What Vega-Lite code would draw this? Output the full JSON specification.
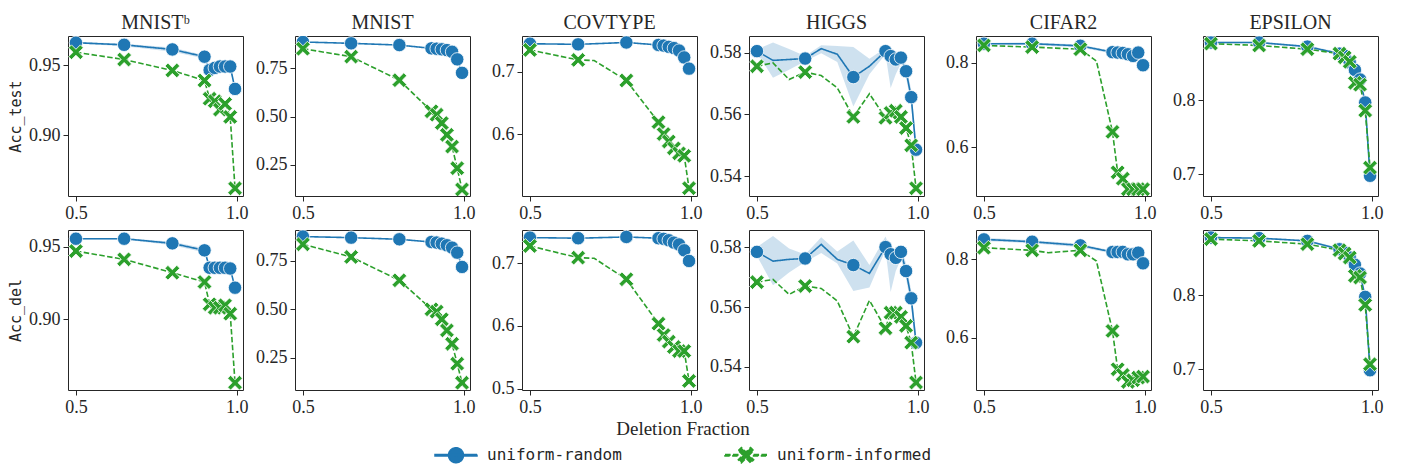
{
"$schema":"https://vega.github.io/schema/vega-lite/v6.json",
"padding":{"left":8,"top":12,"right":10,"bottom":4},
"spacing":6,
"datasets":{"acc":[
{"ds":"MNISTb","split":"test","method":"uniform-random","frac":0.5,"acc":0.966,"lo":0.9655,"hi":0.9667},
{"ds":"MNISTb","split":"test","method":"uniform-random","frac":0.65,"acc":0.9645,"lo":0.9635,"hi":0.9652},
{"ds":"MNISTb","split":"test","method":"uniform-random","frac":0.8,"acc":0.9612,"lo":0.9595,"hi":0.9625},
{"ds":"MNISTb","split":"test","method":"uniform-random","frac":0.9,"acc":0.956,"lo":0.9548,"hi":0.957},
{"ds":"MNISTb","split":"test","method":"uniform-random","frac":0.916,"acc":0.9465,"lo":0.9455,"hi":0.9475},
{"ds":"MNISTb","split":"test","method":"uniform-random","frac":0.932,"acc":0.948,"lo":0.9472,"hi":0.9488},
{"ds":"MNISTb","split":"test","method":"uniform-random","frac":0.948,"acc":0.949,"lo":0.9483,"hi":0.9497},
{"ds":"MNISTb","split":"test","method":"uniform-random","frac":0.964,"acc":0.949,"lo":0.9483,"hi":0.9497},
{"ds":"MNISTb","split":"test","method":"uniform-random","frac":0.98,"acc":0.949,"lo":0.9483,"hi":0.9497},
{"ds":"MNISTb","split":"test","method":"uniform-random","frac":0.995,"acc":0.933,"lo":0.932,"hi":0.934},
{"ds":"MNISTb","split":"test","method":"uniform-informed","frac":0.5,"acc":0.9592},
{"ds":"MNISTb","split":"test","method":"uniform-informed","frac":0.65,"acc":0.954},
{"ds":"MNISTb","split":"test","method":"uniform-informed","frac":0.8,"acc":0.9462},
{"ds":"MNISTb","split":"test","method":"uniform-informed","frac":0.9,"acc":0.939},
{"ds":"MNISTb","split":"test","method":"uniform-informed","frac":0.916,"acc":0.926},
{"ds":"MNISTb","split":"test","method":"uniform-informed","frac":0.932,"acc":0.9242},
{"ds":"MNISTb","split":"test","method":"uniform-informed","frac":0.948,"acc":0.9182},
{"ds":"MNISTb","split":"test","method":"uniform-informed","frac":0.964,"acc":0.9223},
{"ds":"MNISTb","split":"test","method":"uniform-informed","frac":0.98,"acc":0.913},
{"ds":"MNISTb","split":"test","method":"uniform-informed","frac":0.995,"acc":0.862},
{"ds":"MNIST","split":"test","method":"uniform-random","frac":0.5,"acc":0.887},
{"ds":"MNIST","split":"test","method":"uniform-random","frac":0.65,"acc":0.88},
{"ds":"MNIST","split":"test","method":"uniform-random","frac":0.8,"acc":0.871},
{"ds":"MNIST","split":"test","method":"uniform-random","frac":0.9,"acc":0.854},
{"ds":"MNIST","split":"test","method":"uniform-random","frac":0.916,"acc":0.852},
{"ds":"MNIST","split":"test","method":"uniform-random","frac":0.932,"acc":0.849},
{"ds":"MNIST","split":"test","method":"uniform-random","frac":0.948,"acc":0.845},
{"ds":"MNIST","split":"test","method":"uniform-random","frac":0.964,"acc":0.836},
{"ds":"MNIST","split":"test","method":"uniform-random","frac":0.98,"acc":0.797},
{"ds":"MNIST","split":"test","method":"uniform-random","frac":0.995,"acc":0.727},
{"ds":"MNIST","split":"test","method":"uniform-informed","frac":0.5,"acc":0.852},
{"ds":"MNIST","split":"test","method":"uniform-informed","frac":0.65,"acc":0.811},
{"ds":"MNIST","split":"test","method":"uniform-informed","frac":0.8,"acc":0.689},
{"ds":"MNIST","split":"test","method":"uniform-informed","frac":0.9,"acc":0.528},
{"ds":"MNIST","split":"test","method":"uniform-informed","frac":0.916,"acc":0.51},
{"ds":"MNIST","split":"test","method":"uniform-informed","frac":0.932,"acc":0.467},
{"ds":"MNIST","split":"test","method":"uniform-informed","frac":0.948,"acc":0.406},
{"ds":"MNIST","split":"test","method":"uniform-informed","frac":0.964,"acc":0.345},
{"ds":"MNIST","split":"test","method":"uniform-informed","frac":0.98,"acc":0.233},
{"ds":"MNIST","split":"test","method":"uniform-informed","frac":0.995,"acc":0.123},
{"ds":"COVTYPE","split":"test","method":"uniform-random","frac":0.5,"acc":0.745},
{"ds":"COVTYPE","split":"test","method":"uniform-random","frac":0.65,"acc":0.744},
{"ds":"COVTYPE","split":"test","method":"uniform-random","frac":0.8,"acc":0.747},
{"ds":"COVTYPE","split":"test","method":"uniform-random","frac":0.9,"acc":0.743},
{"ds":"COVTYPE","split":"test","method":"uniform-random","frac":0.916,"acc":0.742},
{"ds":"COVTYPE","split":"test","method":"uniform-random","frac":0.932,"acc":0.74},
{"ds":"COVTYPE","split":"test","method":"uniform-random","frac":0.948,"acc":0.738},
{"ds":"COVTYPE","split":"test","method":"uniform-random","frac":0.964,"acc":0.734},
{"ds":"COVTYPE","split":"test","method":"uniform-random","frac":0.98,"acc":0.723},
{"ds":"COVTYPE","split":"test","method":"uniform-random","frac":0.995,"acc":0.705},
{"ds":"COVTYPE","split":"test","method":"uniform-informed","frac":0.5,"acc":0.735},
{"ds":"COVTYPE","split":"test","method":"uniform-informed","frac":0.65,"acc":0.719},
{"ds":"COVTYPE","split":"test","method":"uniform-informed","frac":0.7,"acc":0.718},
{"ds":"COVTYPE","split":"test","method":"uniform-informed","frac":0.8,"acc":0.686},
{"ds":"COVTYPE","split":"test","method":"uniform-informed","frac":0.9,"acc":0.619},
{"ds":"COVTYPE","split":"test","method":"uniform-informed","frac":0.916,"acc":0.6},
{"ds":"COVTYPE","split":"test","method":"uniform-informed","frac":0.932,"acc":0.588},
{"ds":"COVTYPE","split":"test","method":"uniform-informed","frac":0.948,"acc":0.577},
{"ds":"COVTYPE","split":"test","method":"uniform-informed","frac":0.964,"acc":0.569},
{"ds":"COVTYPE","split":"test","method":"uniform-informed","frac":0.98,"acc":0.565},
{"ds":"COVTYPE","split":"test","method":"uniform-informed","frac":0.995,"acc":0.513},
{"ds":"HIGGS","split":"test","method":"uniform-random","frac":0.5,"acc":0.5805,"lo":0.58,"hi":0.581},
{"ds":"HIGGS","split":"test","method":"uniform-random","frac":0.55,"acc":0.5775,"lo":0.5719,"hi":0.5833},
{"ds":"HIGGS","split":"test","method":"uniform-random","frac":0.6,"acc":0.5778,"lo":0.5745,"hi":0.5812},
{"ds":"HIGGS","split":"test","method":"uniform-random","frac":0.65,"acc":0.5781,"lo":0.5772,"hi":0.5789},
{"ds":"HIGGS","split":"test","method":"uniform-random","frac":0.7,"acc":0.5813,"lo":0.5798,"hi":0.5824},
{"ds":"HIGGS","split":"test","method":"uniform-random","frac":0.75,"acc":0.5795,"lo":0.577,"hi":0.5822},
{"ds":"HIGGS","split":"test","method":"uniform-random","frac":0.8,"acc":0.5721,"lo":0.5626,"hi":0.5818},
{"ds":"HIGGS","split":"test","method":"uniform-random","frac":0.85,"acc":0.5756,"lo":0.573,"hi":0.578},
{"ds":"HIGGS","split":"test","method":"uniform-random","frac":0.9,"acc":0.5805,"lo":0.5795,"hi":0.5815},
{"ds":"HIGGS","split":"test","method":"uniform-random","frac":0.916,"acc":0.5789,"lo":0.5686,"hi":0.58},
{"ds":"HIGGS","split":"test","method":"uniform-random","frac":0.932,"acc":0.5778,"lo":0.573,"hi":0.579},
{"ds":"HIGGS","split":"test","method":"uniform-random","frac":0.948,"acc":0.5784,"lo":0.5765,"hi":0.58},
{"ds":"HIGGS","split":"test","method":"uniform-random","frac":0.964,"acc":0.574,"lo":0.572,"hi":0.576},
{"ds":"HIGGS","split":"test","method":"uniform-random","frac":0.98,"acc":0.5656,"lo":0.563,"hi":0.568},
{"ds":"HIGGS","split":"test","method":"uniform-random","frac":0.995,"acc":0.5486,"lo":0.545,"hi":0.552},
{"ds":"HIGGS","split":"test","method":"uniform-informed","frac":0.5,"acc":0.5756},
{"ds":"HIGGS","split":"test","method":"uniform-informed","frac":0.55,"acc":0.5767},
{"ds":"HIGGS","split":"test","method":"uniform-informed","frac":0.6,"acc":0.5713},
{"ds":"HIGGS","split":"test","method":"uniform-informed","frac":0.65,"acc":0.5737},
{"ds":"HIGGS","split":"test","method":"uniform-informed","frac":0.7,"acc":0.5726},
{"ds":"HIGGS","split":"test","method":"uniform-informed","frac":0.75,"acc":0.5686},
{"ds":"HIGGS","split":"test","method":"uniform-informed","frac":0.8,"acc":0.5592},
{"ds":"HIGGS","split":"test","method":"uniform-informed","frac":0.85,"acc":0.5667},
{"ds":"HIGGS","split":"test","method":"uniform-informed","frac":0.9,"acc":0.5589},
{"ds":"HIGGS","split":"test","method":"uniform-informed","frac":0.916,"acc":0.5605},
{"ds":"HIGGS","split":"test","method":"uniform-informed","frac":0.932,"acc":0.5612},
{"ds":"HIGGS","split":"test","method":"uniform-informed","frac":0.948,"acc":0.5592},
{"ds":"HIGGS","split":"test","method":"uniform-informed","frac":0.964,"acc":0.5556},
{"ds":"HIGGS","split":"test","method":"uniform-informed","frac":0.98,"acc":0.55},
{"ds":"HIGGS","split":"test","method":"uniform-informed","frac":0.995,"acc":0.5361},
{"ds":"CIFAR2","split":"test","method":"uniform-random","frac":0.5,"acc":0.845,"lo":0.843,"hi":0.847},
{"ds":"CIFAR2","split":"test","method":"uniform-random","frac":0.65,"acc":0.845,"lo":0.842,"hi":0.848},
{"ds":"CIFAR2","split":"test","method":"uniform-random","frac":0.8,"acc":0.84,"lo":0.836,"hi":0.843},
{"ds":"CIFAR2","split":"test","method":"uniform-random","frac":0.9,"acc":0.825,"lo":0.822,"hi":0.828},
{"ds":"CIFAR2","split":"test","method":"uniform-random","frac":0.916,"acc":0.824,"lo":0.821,"hi":0.827},
{"ds":"CIFAR2","split":"test","method":"uniform-random","frac":0.932,"acc":0.823,"lo":0.82,"hi":0.826},
{"ds":"CIFAR2","split":"test","method":"uniform-random","frac":0.948,"acc":0.82,"lo":0.817,"hi":0.823},
{"ds":"CIFAR2","split":"test","method":"uniform-random","frac":0.964,"acc":0.816,"lo":0.813,"hi":0.819},
{"ds":"CIFAR2","split":"test","method":"uniform-random","frac":0.98,"acc":0.824,"lo":0.821,"hi":0.827},
{"ds":"CIFAR2","split":"test","method":"uniform-random","frac":0.995,"acc":0.794,"lo":0.791,"hi":0.797},
{"ds":"CIFAR2","split":"test","method":"uniform-informed","frac":0.5,"acc":0.841},
{"ds":"CIFAR2","split":"test","method":"uniform-informed","frac":0.65,"acc":0.837},
{"ds":"CIFAR2","split":"test","method":"uniform-informed","frac":0.8,"acc":0.832},
{"ds":"CIFAR2","split":"test","method":"uniform-informed","frac":0.85,"acc":0.804},
{"ds":"CIFAR2","split":"test","method":"uniform-informed","frac":0.9,"acc":0.636},
{"ds":"CIFAR2","split":"test","method":"uniform-informed","frac":0.916,"acc":0.54},
{"ds":"CIFAR2","split":"test","method":"uniform-informed","frac":0.932,"acc":0.525},
{"ds":"CIFAR2","split":"test","method":"uniform-informed","frac":0.948,"acc":0.5},
{"ds":"CIFAR2","split":"test","method":"uniform-informed","frac":0.964,"acc":0.5},
{"ds":"CIFAR2","split":"test","method":"uniform-informed","frac":0.98,"acc":0.5},
{"ds":"CIFAR2","split":"test","method":"uniform-informed","frac":0.995,"acc":0.5},
{"ds":"EPSILON","split":"test","method":"uniform-random","frac":0.5,"acc":0.878,"lo":0.877,"hi":0.879},
{"ds":"EPSILON","split":"test","method":"uniform-random","frac":0.65,"acc":0.878,"lo":0.877,"hi":0.879},
{"ds":"EPSILON","split":"test","method":"uniform-random","frac":0.8,"acc":0.8725,"lo":0.871,"hi":0.874},
{"ds":"EPSILON","split":"test","method":"uniform-random","frac":0.9,"acc":0.863,"lo":0.861,"hi":0.865},
{"ds":"EPSILON","split":"test","method":"uniform-random","frac":0.916,"acc":0.86,"lo":0.858,"hi":0.862},
{"ds":"EPSILON","split":"test","method":"uniform-random","frac":0.932,"acc":0.851,"lo":0.849,"hi":0.853},
{"ds":"EPSILON","split":"test","method":"uniform-random","frac":0.948,"acc":0.841,"lo":0.839,"hi":0.843},
{"ds":"EPSILON","split":"test","method":"uniform-random","frac":0.964,"acc":0.828,"lo":0.826,"hi":0.83},
{"ds":"EPSILON","split":"test","method":"uniform-random","frac":0.98,"acc":0.797,"lo":0.794,"hi":0.8},
{"ds":"EPSILON","split":"test","method":"uniform-random","frac":0.995,"acc":0.698,"lo":0.682,"hi":0.705},
{"ds":"EPSILON","split":"test","method":"uniform-informed","frac":0.5,"acc":0.8765},
{"ds":"EPSILON","split":"test","method":"uniform-informed","frac":0.65,"acc":0.874},
{"ds":"EPSILON","split":"test","method":"uniform-informed","frac":0.8,"acc":0.869},
{"ds":"EPSILON","split":"test","method":"uniform-informed","frac":0.9,"acc":0.863},
{"ds":"EPSILON","split":"test","method":"uniform-informed","frac":0.916,"acc":0.858},
{"ds":"EPSILON","split":"test","method":"uniform-informed","frac":0.932,"acc":0.852},
{"ds":"EPSILON","split":"test","method":"uniform-informed","frac":0.948,"acc":0.8236},
{"ds":"EPSILON","split":"test","method":"uniform-informed","frac":0.964,"acc":0.821},
{"ds":"EPSILON","split":"test","method":"uniform-informed","frac":0.98,"acc":0.786},
{"ds":"EPSILON","split":"test","method":"uniform-informed","frac":0.995,"acc":0.709},
{"ds":"MNISTb","split":"del","method":"uniform-random","frac":0.5,"acc":0.9555,"lo":0.955,"hi":0.956},
{"ds":"MNISTb","split":"del","method":"uniform-random","frac":0.65,"acc":0.9555,"lo":0.955,"hi":0.956},
{"ds":"MNISTb","split":"del","method":"uniform-random","frac":0.8,"acc":0.9523,"lo":0.951,"hi":0.9535},
{"ds":"MNISTb","split":"del","method":"uniform-random","frac":0.9,"acc":0.9475,"lo":0.946,"hi":0.949},
{"ds":"MNISTb","split":"del","method":"uniform-random","frac":0.916,"acc":0.9355,"lo":0.935,"hi":0.936},
{"ds":"MNISTb","split":"del","method":"uniform-random","frac":0.932,"acc":0.9355,"lo":0.935,"hi":0.936},
{"ds":"MNISTb","split":"del","method":"uniform-random","frac":0.948,"acc":0.9355,"lo":0.935,"hi":0.936},
{"ds":"MNISTb","split":"del","method":"uniform-random","frac":0.964,"acc":0.9355,"lo":0.935,"hi":0.936},
{"ds":"MNISTb","split":"del","method":"uniform-random","frac":0.98,"acc":0.935,"lo":0.9345,"hi":0.9355},
{"ds":"MNISTb","split":"del","method":"uniform-random","frac":0.995,"acc":0.9218,"lo":0.921,"hi":0.9225},
{"ds":"MNISTb","split":"del","method":"uniform-informed","frac":0.5,"acc":0.947},
{"ds":"MNISTb","split":"del","method":"uniform-informed","frac":0.65,"acc":0.9413},
{"ds":"MNISTb","split":"del","method":"uniform-informed","frac":0.8,"acc":0.9321},
{"ds":"MNISTb","split":"del","method":"uniform-informed","frac":0.9,"acc":0.9257},
{"ds":"MNISTb","split":"del","method":"uniform-informed","frac":0.916,"acc":0.9104},
{"ds":"MNISTb","split":"del","method":"uniform-informed","frac":0.932,"acc":0.908},
{"ds":"MNISTb","split":"del","method":"uniform-informed","frac":0.948,"acc":0.908},
{"ds":"MNISTb","split":"del","method":"uniform-informed","frac":0.964,"acc":0.9097},
{"ds":"MNISTb","split":"del","method":"uniform-informed","frac":0.98,"acc":0.9039},
{"ds":"MNISTb","split":"del","method":"uniform-informed","frac":0.995,"acc":0.8564},
{"ds":"MNIST","split":"del","method":"uniform-random","frac":0.5,"acc":0.876},
{"ds":"MNIST","split":"del","method":"uniform-random","frac":0.65,"acc":0.8705},
{"ds":"MNIST","split":"del","method":"uniform-random","frac":0.8,"acc":0.862},
{"ds":"MNIST","split":"del","method":"uniform-random","frac":0.9,"acc":0.848},
{"ds":"MNIST","split":"del","method":"uniform-random","frac":0.916,"acc":0.845},
{"ds":"MNIST","split":"del","method":"uniform-random","frac":0.932,"acc":0.8395},
{"ds":"MNIST","split":"del","method":"uniform-random","frac":0.948,"acc":0.831},
{"ds":"MNIST","split":"del","method":"uniform-random","frac":0.964,"acc":0.819},
{"ds":"MNIST","split":"del","method":"uniform-random","frac":0.98,"acc":0.793},
{"ds":"MNIST","split":"del","method":"uniform-random","frac":0.995,"acc":0.719},
{"ds":"MNIST","split":"del","method":"uniform-informed","frac":0.5,"acc":0.836},
{"ds":"MNIST","split":"del","method":"uniform-informed","frac":0.65,"acc":0.7707},
{"ds":"MNIST","split":"del","method":"uniform-informed","frac":0.8,"acc":0.65},
{"ds":"MNIST","split":"del","method":"uniform-informed","frac":0.9,"acc":0.5},
{"ds":"MNIST","split":"del","method":"uniform-informed","frac":0.916,"acc":0.488},
{"ds":"MNIST","split":"del","method":"uniform-informed","frac":0.932,"acc":0.4485},
{"ds":"MNIST","split":"del","method":"uniform-informed","frac":0.948,"acc":0.391},
{"ds":"MNIST","split":"del","method":"uniform-informed","frac":0.964,"acc":0.322},
{"ds":"MNIST","split":"del","method":"uniform-informed","frac":0.98,"acc":0.219},
{"ds":"MNIST","split":"del","method":"uniform-informed","frac":0.995,"acc":0.1206},
{"ds":"COVTYPE","split":"del","method":"uniform-random","frac":0.5,"acc":0.741},
{"ds":"COVTYPE","split":"del","method":"uniform-random","frac":0.65,"acc":0.74},
{"ds":"COVTYPE","split":"del","method":"uniform-random","frac":0.8,"acc":0.742},
{"ds":"COVTYPE","split":"del","method":"uniform-random","frac":0.9,"acc":0.74},
{"ds":"COVTYPE","split":"del","method":"uniform-random","frac":0.916,"acc":0.739},
{"ds":"COVTYPE","split":"del","method":"uniform-random","frac":0.932,"acc":0.7367},
{"ds":"COVTYPE","split":"del","method":"uniform-random","frac":0.948,"acc":0.733},
{"ds":"COVTYPE","split":"del","method":"uniform-random","frac":0.964,"acc":0.73},
{"ds":"COVTYPE","split":"del","method":"uniform-random","frac":0.98,"acc":0.7207},
{"ds":"COVTYPE","split":"del","method":"uniform-random","frac":0.995,"acc":0.7037},
{"ds":"COVTYPE","split":"del","method":"uniform-informed","frac":0.5,"acc":0.7276},
{"ds":"COVTYPE","split":"del","method":"uniform-informed","frac":0.65,"acc":0.709},
{"ds":"COVTYPE","split":"del","method":"uniform-informed","frac":0.7,"acc":0.708},
{"ds":"COVTYPE","split":"del","method":"uniform-informed","frac":0.8,"acc":0.6745},
{"ds":"COVTYPE","split":"del","method":"uniform-informed","frac":0.9,"acc":0.6037},
{"ds":"COVTYPE","split":"del","method":"uniform-informed","frac":0.916,"acc":0.5856},
{"ds":"COVTYPE","split":"del","method":"uniform-informed","frac":0.932,"acc":0.575},
{"ds":"COVTYPE","split":"del","method":"uniform-informed","frac":0.948,"acc":0.5665},
{"ds":"COVTYPE","split":"del","method":"uniform-informed","frac":0.964,"acc":0.56},
{"ds":"COVTYPE","split":"del","method":"uniform-informed","frac":0.98,"acc":0.56},
{"ds":"COVTYPE","split":"del","method":"uniform-informed","frac":0.995,"acc":0.5123},
{"ds":"HIGGS","split":"del","method":"uniform-random","frac":0.5,"acc":0.5784,"lo":0.577,"hi":0.58},
{"ds":"HIGGS","split":"del","method":"uniform-random","frac":0.55,"acc":0.5753,"lo":0.5673,"hi":0.5837},
{"ds":"HIGGS","split":"del","method":"uniform-random","frac":0.6,"acc":0.5759,"lo":0.5715,"hi":0.5795},
{"ds":"HIGGS","split":"del","method":"uniform-random","frac":0.65,"acc":0.5762,"lo":0.575,"hi":0.5775},
{"ds":"HIGGS","split":"del","method":"uniform-random","frac":0.7,"acc":0.5809,"lo":0.578,"hi":0.5833},
{"ds":"HIGGS","split":"del","method":"uniform-random","frac":0.75,"acc":0.5759,"lo":0.5745,"hi":0.5785},
{"ds":"HIGGS","split":"del","method":"uniform-random","frac":0.8,"acc":0.574,"lo":0.5653,"hi":0.5822},
{"ds":"HIGGS","split":"del","method":"uniform-random","frac":0.85,"acc":0.5712,"lo":0.5665,"hi":0.574},
{"ds":"HIGGS","split":"del","method":"uniform-random","frac":0.9,"acc":0.58,"lo":0.579,"hi":0.5835},
{"ds":"HIGGS","split":"del","method":"uniform-random","frac":0.916,"acc":0.5776,"lo":0.565,"hi":0.579},
{"ds":"HIGGS","split":"del","method":"uniform-random","frac":0.932,"acc":0.5764,"lo":0.572,"hi":0.578},
{"ds":"HIGGS","split":"del","method":"uniform-random","frac":0.948,"acc":0.5784,"lo":0.576,"hi":0.58},
{"ds":"HIGGS","split":"del","method":"uniform-random","frac":0.964,"acc":0.572,"lo":0.5695,"hi":0.5745},
{"ds":"HIGGS","split":"del","method":"uniform-random","frac":0.98,"acc":0.5629,"lo":0.56,"hi":0.5655},
{"ds":"HIGGS","split":"del","method":"uniform-random","frac":0.995,"acc":0.5481,"lo":0.545,"hi":0.551},
{"ds":"HIGGS","split":"del","method":"uniform-informed","frac":0.5,"acc":0.5683},
{"ds":"HIGGS","split":"del","method":"uniform-informed","frac":0.55,"acc":0.5692},
{"ds":"HIGGS","split":"del","method":"uniform-informed","frac":0.6,"acc":0.5642},
{"ds":"HIGGS","split":"del","method":"uniform-informed","frac":0.65,"acc":0.567},
{"ds":"HIGGS","split":"del","method":"uniform-informed","frac":0.7,"acc":0.5662},
{"ds":"HIGGS","split":"del","method":"uniform-informed","frac":0.75,"acc":0.562},
{"ds":"HIGGS","split":"del","method":"uniform-informed","frac":0.8,"acc":0.5501},
{"ds":"HIGGS","split":"del","method":"uniform-informed","frac":0.85,"acc":0.5622},
{"ds":"HIGGS","split":"del","method":"uniform-informed","frac":0.9,"acc":0.5529},
{"ds":"HIGGS","split":"del","method":"uniform-informed","frac":0.916,"acc":0.5581},
{"ds":"HIGGS","split":"del","method":"uniform-informed","frac":0.932,"acc":0.5581},
{"ds":"HIGGS","split":"del","method":"uniform-informed","frac":0.948,"acc":0.5567},
{"ds":"HIGGS","split":"del","method":"uniform-informed","frac":0.964,"acc":0.5537},
{"ds":"HIGGS","split":"del","method":"uniform-informed","frac":0.98,"acc":0.5481},
{"ds":"HIGGS","split":"del","method":"uniform-informed","frac":0.995,"acc":0.5348},
{"ds":"CIFAR2","split":"del","method":"uniform-random","frac":0.5,"acc":0.851,"lo":0.847,"hi":0.855},
{"ds":"CIFAR2","split":"del","method":"uniform-random","frac":0.65,"acc":0.845,"lo":0.841,"hi":0.849},
{"ds":"CIFAR2","split":"del","method":"uniform-random","frac":0.8,"acc":0.8357,"lo":0.831,"hi":0.84},
{"ds":"CIFAR2","split":"del","method":"uniform-random","frac":0.9,"acc":0.8187,"lo":0.815,"hi":0.822},
{"ds":"CIFAR2","split":"del","method":"uniform-random","frac":0.916,"acc":0.8187,"lo":0.815,"hi":0.822},
{"ds":"CIFAR2","split":"del","method":"uniform-random","frac":0.932,"acc":0.819,"lo":0.815,"hi":0.823},
{"ds":"CIFAR2","split":"del","method":"uniform-random","frac":0.948,"acc":0.8128,"lo":0.809,"hi":0.816},
{"ds":"CIFAR2","split":"del","method":"uniform-random","frac":0.964,"acc":0.8128,"lo":0.809,"hi":0.816},
{"ds":"CIFAR2","split":"del","method":"uniform-random","frac":0.98,"acc":0.817,"lo":0.813,"hi":0.821},
{"ds":"CIFAR2","split":"del","method":"uniform-random","frac":0.995,"acc":0.7898,"lo":0.786,"hi":0.793},
{"ds":"CIFAR2","split":"del","method":"uniform-informed","frac":0.5,"acc":0.8297},
{"ds":"CIFAR2","split":"del","method":"uniform-informed","frac":0.65,"acc":0.823},
{"ds":"CIFAR2","split":"del","method":"uniform-informed","frac":0.7,"acc":0.817},
{"ds":"CIFAR2","split":"del","method":"uniform-informed","frac":0.8,"acc":0.823},
{"ds":"CIFAR2","split":"del","method":"uniform-informed","frac":0.85,"acc":0.7957},
{"ds":"CIFAR2","split":"del","method":"uniform-informed","frac":0.9,"acc":0.617},
{"ds":"CIFAR2","split":"del","method":"uniform-informed","frac":0.916,"acc":0.519},
{"ds":"CIFAR2","split":"del","method":"uniform-informed","frac":0.932,"acc":0.5046},
{"ds":"CIFAR2","split":"del","method":"uniform-informed","frac":0.948,"acc":0.4867},
{"ds":"CIFAR2","split":"del","method":"uniform-informed","frac":0.964,"acc":0.491},
{"ds":"CIFAR2","split":"del","method":"uniform-informed","frac":0.98,"acc":0.4977},
{"ds":"CIFAR2","split":"del","method":"uniform-informed","frac":0.995,"acc":0.5003},
{"ds":"EPSILON","split":"del","method":"uniform-random","frac":0.5,"acc":0.8778,"lo":0.8768,"hi":0.8788},
{"ds":"EPSILON","split":"del","method":"uniform-random","frac":0.65,"acc":0.877,"lo":0.876,"hi":0.878},
{"ds":"EPSILON","split":"del","method":"uniform-random","frac":0.8,"acc":0.8733,"lo":0.872,"hi":0.8746},
{"ds":"EPSILON","split":"del","method":"uniform-random","frac":0.9,"acc":0.862,"lo":0.86,"hi":0.864},
{"ds":"EPSILON","split":"del","method":"uniform-random","frac":0.916,"acc":0.8576,"lo":0.856,"hi":0.859},
{"ds":"EPSILON","split":"del","method":"uniform-random","frac":0.932,"acc":0.8508,"lo":0.849,"hi":0.853},
{"ds":"EPSILON","split":"del","method":"uniform-random","frac":0.948,"acc":0.841,"lo":0.839,"hi":0.843},
{"ds":"EPSILON","split":"del","method":"uniform-random","frac":0.964,"acc":0.8292,"lo":0.827,"hi":0.831},
{"ds":"EPSILON","split":"del","method":"uniform-random","frac":0.98,"acc":0.7977,"lo":0.795,"hi":0.8},
{"ds":"EPSILON","split":"del","method":"uniform-random","frac":0.995,"acc":0.6987,"lo":0.682,"hi":0.705},
{"ds":"EPSILON","split":"del","method":"uniform-informed","frac":0.5,"acc":0.8757},
{"ds":"EPSILON","split":"del","method":"uniform-informed","frac":0.65,"acc":0.8733},
{"ds":"EPSILON","split":"del","method":"uniform-informed","frac":0.8,"acc":0.8689},
{"ds":"EPSILON","split":"del","method":"uniform-informed","frac":0.9,"acc":0.8608},
{"ds":"EPSILON","split":"del","method":"uniform-informed","frac":0.916,"acc":0.8562},
{"ds":"EPSILON","split":"del","method":"uniform-informed","frac":0.932,"acc":0.8508},
{"ds":"EPSILON","split":"del","method":"uniform-informed","frac":0.948,"acc":0.8261},
{"ds":"EPSILON","split":"del","method":"uniform-informed","frac":0.964,"acc":0.8238},
{"ds":"EPSILON","split":"del","method":"uniform-informed","frac":0.98,"acc":0.7869},
{"ds":"EPSILON","split":"del","method":"uniform-informed","frac":0.995,"acc":0.7068}
]},
"vconcat":[
{"hconcat":[
{"width":175,"height":160,"title":"MNISTᵇ","data":{"name":"acc"},"transform":[{"filter":"datum.ds==='MNISTb' && datum.split==='test'"}],
 "encoding":{"x":{"field":"frac","type":"quantitative","scale":{"domain":[0.4753,1.0198],"nice":false,"zero":false},"axis":{"values":[0.5,1],"format":".1f","title":null}},
  "y":{"field":"acc","type":"quantitative","scale":{"domain":[0.8565,0.9708],"nice":false,"zero":false},"axis":{"values":[0.9,0.95],"format":".2f","title":"Acc_test"}},
  "color":{"field":"method","type":"nominal","scale":{"domain":["uniform-random","uniform-informed"],"range":["#1f77b4","#2ca02c"]},
   "legend":{"orient":"none","legendX":366,"legendY":384,"direction":"horizontal","title":"Deletion Fraction","titleAnchor":"middle","titlePadding":8,"symbolSize":196,"symbolOpacity":1,"labelOffset":37,"columnPadding":100}}},
 "layer":[
  {"transform":[{"filter":"isValid(datum.lo)"}],"mark":{"type":"area","opacity":0.22,"clip":true},"encoding":{"y":{"field":"lo","type":"quantitative","scale":{"domain":[0.8565,0.9708],"nice":false,"zero":false},"axis":{"values":[0.9,0.95],"format":".2f","title":"Acc_test"}},"y2":{"field":"hi"}}},
  {"mark":{"type":"line","strokeWidth":1.6,"clip":true},"encoding":{"strokeDash":{"field":"method","type":"nominal","scale":{"domain":["uniform-random","uniform-informed"],"range":[[1,0],[5.5,2.4]]},"legend":null}}},
  {"transform":[{"filter":{"and":[{"field":"method","equal":"uniform-random"},{"field":"frac","oneOf":[0.5,0.65,0.8,0.9,0.916,0.932,0.948,0.964,0.98,0.995]}]}}],"mark":{"type":"point","shape":"circle","filled":true,"opacity":1,"size":180,"stroke":"white","strokeWidth":0.8,"clip":true}},
  {"transform":[{"filter":{"and":[{"field":"method","equal":"uniform-informed"},{"field":"frac","oneOf":[0.5,0.65,0.8,0.9,0.916,0.932,0.948,0.964,0.98,0.995]}]}}],"mark":{"type":"point","shape":"M-1.1,-0.66L-0.66,-1.1L0,-0.44L0.66,-1.1L1.1,-0.66L0.44,0L1.1,0.66L0.66,1.1L0,0.44L-0.66,1.1L-1.1,0.66L-0.44,0Z","filled":true,"opacity":1,"size":180,"stroke":"white","strokeWidth":0.8,"clip":true}},
  {"transform":[{"filter":{"field":"frac","equal":0.5}}],"mark":{"type":"point","filled":true,"opacity":0},"encoding":{"shape":{"field":"method","type":"nominal","scale":{"domain":["uniform-random","uniform-informed"],"range":["M-1,-0.11H5V0.11H-1Z M2,-1.07A1.07,1.07 0 1,1 2,1.07A1.07,1.07 0 1,1 2,-1.07Z","M-1,-0.11H-0.21V0.11H-1Z M0.13,-0.11H0.92V0.11H0.13Z M3.08,-0.11H3.87V0.11H3.08Z M4.21,-0.11H5V0.11H4.21Z M0.9,-0.66L1.34,-1.1L2,-0.44L2.66,-1.1L3.1,-0.66L2.44,0L3.1,0.66L2.66,1.1L2,0.44L1.34,1.1L0.9,0.66L1.56,0Z"]},
   "legend":{"orient":"none","legendX":366,"legendY":384,"direction":"horizontal","title":"Deletion Fraction","titleAnchor":"middle","titlePadding":8,"symbolSize":196,"symbolOpacity":1,"labelOffset":37,"columnPadding":100}}}}
 ]},
{"width":175,"height":160,"title":"MNIST","data":{"name":"acc"},"transform":[{"filter":"datum.ds==='MNIST' && datum.split==='test'"}],
 "encoding":{"x":{"field":"frac","type":"quantitative","scale":{"domain":[0.4753,1.0198],"nice":false,"zero":false},"axis":{"values":[0.5,1],"format":".1f","title":null}},
  "y":{"field":"acc","type":"quantitative","scale":{"domain":[0.089,0.918],"nice":false,"zero":false},"axis":{"values":[0.25,0.5,0.75],"format":".2f","title":null}},
  "color":{"field":"method","type":"nominal","scale":{"domain":["uniform-random","uniform-informed"],"range":["#1f77b4","#2ca02c"]},"legend":null}},
 "layer":[
  {"mark":{"type":"line","strokeWidth":1.6,"clip":true},"encoding":{"strokeDash":{"field":"method","type":"nominal","scale":{"domain":["uniform-random","uniform-informed"],"range":[[1,0],[5.5,2.4]]},"legend":null}}},
  {"transform":[{"filter":{"and":[{"field":"method","equal":"uniform-random"},{"field":"frac","oneOf":[0.5,0.65,0.8,0.9,0.916,0.932,0.948,0.964,0.98,0.995]}]}}],"mark":{"type":"point","shape":"circle","filled":true,"opacity":1,"size":180,"stroke":"white","strokeWidth":0.8,"clip":true}},
  {"transform":[{"filter":{"and":[{"field":"method","equal":"uniform-informed"},{"field":"frac","oneOf":[0.5,0.65,0.8,0.9,0.916,0.932,0.948,0.964,0.98,0.995]}]}}],"mark":{"type":"point","shape":"M-1.1,-0.66L-0.66,-1.1L0,-0.44L0.66,-1.1L1.1,-0.66L0.44,0L1.1,0.66L0.66,1.1L0,0.44L-0.66,1.1L-1.1,0.66L-0.44,0Z","filled":true,"opacity":1,"size":180,"stroke":"white","strokeWidth":0.8,"clip":true}}
 ]},
{"width":175,"height":160,"title":"COVTYPE","data":{"name":"acc"},"transform":[{"filter":"datum.ds==='COVTYPE' && datum.split==='test'"}],
 "encoding":{"x":{"field":"frac","type":"quantitative","scale":{"domain":[0.4753,1.0198],"nice":false,"zero":false},"axis":{"values":[0.5,1],"format":".1f","title":null}},
  "y":{"field":"acc","type":"quantitative","scale":{"domain":[0.5005,0.7574],"nice":false,"zero":false},"axis":{"values":[0.6,0.7],"format":".1f","title":null}},
  "color":{"field":"method","type":"nominal","scale":{"domain":["uniform-random","uniform-informed"],"range":["#1f77b4","#2ca02c"]},"legend":null}},
 "layer":[
  {"mark":{"type":"line","strokeWidth":1.6,"clip":true},"encoding":{"strokeDash":{"field":"method","type":"nominal","scale":{"domain":["uniform-random","uniform-informed"],"range":[[1,0],[5.5,2.4]]},"legend":null}}},
  {"transform":[{"filter":{"and":[{"field":"method","equal":"uniform-random"},{"field":"frac","oneOf":[0.5,0.65,0.8,0.9,0.916,0.932,0.948,0.964,0.98,0.995]}]}}],"mark":{"type":"point","shape":"circle","filled":true,"opacity":1,"size":180,"stroke":"white","strokeWidth":0.8,"clip":true}},
  {"transform":[{"filter":{"and":[{"field":"method","equal":"uniform-informed"},{"field":"frac","oneOf":[0.5,0.65,0.8,0.9,0.916,0.932,0.948,0.964,0.98,0.995]}]}}],"mark":{"type":"point","shape":"M-1.1,-0.66L-0.66,-1.1L0,-0.44L0.66,-1.1L1.1,-0.66L0.44,0L1.1,0.66L0.66,1.1L0,0.44L-0.66,1.1L-1.1,0.66L-0.44,0Z","filled":true,"opacity":1,"size":180,"stroke":"white","strokeWidth":0.8,"clip":true}}
 ]},
{"width":175,"height":160,"title":"HIGGS","data":{"name":"acc"},"transform":[{"filter":"datum.ds==='HIGGS' && datum.split==='test'"}],
 "encoding":{"x":{"field":"frac","type":"quantitative","scale":{"domain":[0.4753,1.0198],"nice":false,"zero":false},"axis":{"values":[0.5,1],"format":".1f","title":null}},
  "y":{"field":"acc","type":"quantitative","scale":{"domain":[0.5336,0.5854],"nice":false,"zero":false},"axis":{"values":[0.54,0.56,0.58],"format":".2f","title":null}},
  "color":{"field":"method","type":"nominal","scale":{"domain":["uniform-random","uniform-informed"],"range":["#1f77b4","#2ca02c"]},"legend":null}},
 "layer":[
  {"transform":[{"filter":"isValid(datum.lo)"}],"mark":{"type":"area","opacity":0.22,"clip":true},"encoding":{"y":{"field":"lo","type":"quantitative","scale":{"domain":[0.5336,0.5854],"nice":false,"zero":false},"axis":{"values":[0.54,0.56,0.58],"format":".2f","title":null}},"y2":{"field":"hi"}}},
  {"mark":{"type":"line","strokeWidth":1.6,"clip":true},"encoding":{"strokeDash":{"field":"method","type":"nominal","scale":{"domain":["uniform-random","uniform-informed"],"range":[[1,0],[5.5,2.4]]},"legend":null}}},
  {"transform":[{"filter":{"and":[{"field":"method","equal":"uniform-random"},{"field":"frac","oneOf":[0.5,0.65,0.8,0.9,0.916,0.932,0.948,0.964,0.98,0.995]}]}}],"mark":{"type":"point","shape":"circle","filled":true,"opacity":1,"size":180,"stroke":"white","strokeWidth":0.8,"clip":true}},
  {"transform":[{"filter":{"and":[{"field":"method","equal":"uniform-informed"},{"field":"frac","oneOf":[0.5,0.65,0.8,0.9,0.916,0.932,0.948,0.964,0.98,0.995]}]}}],"mark":{"type":"point","shape":"M-1.1,-0.66L-0.66,-1.1L0,-0.44L0.66,-1.1L1.1,-0.66L0.44,0L1.1,0.66L0.66,1.1L0,0.44L-0.66,1.1L-1.1,0.66L-0.44,0Z","filled":true,"opacity":1,"size":180,"stroke":"white","strokeWidth":0.8,"clip":true}}
 ]},
{"width":175,"height":160,"title":"CIFAR2","data":{"name":"acc"},"transform":[{"filter":"datum.ds==='CIFAR2' && datum.split==='test'"}],
 "encoding":{"x":{"field":"frac","type":"quantitative","scale":{"domain":[0.4753,1.0198],"nice":false,"zero":false},"axis":{"values":[0.5,1],"format":".1f","title":null}},
  "y":{"field":"acc","type":"quantitative","scale":{"domain":[0.484,0.8633],"nice":false,"zero":false},"axis":{"values":[0.6,0.8],"format":".1f","title":null}},
  "color":{"field":"method","type":"nominal","scale":{"domain":["uniform-random","uniform-informed"],"range":["#1f77b4","#2ca02c"]},"legend":null}},
 "layer":[
  {"transform":[{"filter":"isValid(datum.lo)"}],"mark":{"type":"area","opacity":0.22,"clip":true},"encoding":{"y":{"field":"lo","type":"quantitative","scale":{"domain":[0.484,0.8633],"nice":false,"zero":false},"axis":{"values":[0.6,0.8],"format":".1f","title":null}},"y2":{"field":"hi"}}},
  {"mark":{"type":"line","strokeWidth":1.6,"clip":true},"encoding":{"strokeDash":{"field":"method","type":"nominal","scale":{"domain":["uniform-random","uniform-informed"],"range":[[1,0],[5.5,2.4]]},"legend":null}}},
  {"transform":[{"filter":{"and":[{"field":"method","equal":"uniform-random"},{"field":"frac","oneOf":[0.5,0.65,0.8,0.9,0.916,0.932,0.948,0.964,0.98,0.995]}]}}],"mark":{"type":"point","shape":"circle","filled":true,"opacity":1,"size":180,"stroke":"white","strokeWidth":0.8,"clip":true}},
  {"transform":[{"filter":{"and":[{"field":"method","equal":"uniform-informed"},{"field":"frac","oneOf":[0.5,0.65,0.8,0.9,0.916,0.932,0.948,0.964,0.98,0.995]}]}}],"mark":{"type":"point","shape":"M-1.1,-0.66L-0.66,-1.1L0,-0.44L0.66,-1.1L1.1,-0.66L0.44,0L1.1,0.66L0.66,1.1L0,0.44L-0.66,1.1L-1.1,0.66L-0.44,0Z","filled":true,"opacity":1,"size":180,"stroke":"white","strokeWidth":0.8,"clip":true}}
 ]},
{"width":175,"height":160,"title":"EPSILON","data":{"name":"acc"},"transform":[{"filter":"datum.ds==='EPSILON' && datum.split==='test'"}],
 "encoding":{"x":{"field":"frac","type":"quantitative","scale":{"domain":[0.4753,1.0198],"nice":false,"zero":false},"axis":{"values":[0.5,1],"format":".1f","title":null}},
  "y":{"field":"acc","type":"quantitative","scale":{"domain":[0.6707,0.8868],"nice":false,"zero":false},"axis":{"values":[0.7,0.8],"format":".1f","title":null}},
  "color":{"field":"method","type":"nominal","scale":{"domain":["uniform-random","uniform-informed"],"range":["#1f77b4","#2ca02c"]},"legend":null}},
 "layer":[
  {"transform":[{"filter":"isValid(datum.lo)"}],"mark":{"type":"area","opacity":0.22,"clip":true},"encoding":{"y":{"field":"lo","type":"quantitative","scale":{"domain":[0.6707,0.8868],"nice":false,"zero":false},"axis":{"values":[0.7,0.8],"format":".1f","title":null}},"y2":{"field":"hi"}}},
  {"mark":{"type":"line","strokeWidth":1.6,"clip":true},"encoding":{"strokeDash":{"field":"method","type":"nominal","scale":{"domain":["uniform-random","uniform-informed"],"range":[[1,0],[5.5,2.4]]},"legend":null}}},
  {"transform":[{"filter":{"and":[{"field":"method","equal":"uniform-random"},{"field":"frac","oneOf":[0.5,0.65,0.8,0.9,0.916,0.932,0.948,0.964,0.98,0.995]}]}}],"mark":{"type":"point","shape":"circle","filled":true,"opacity":1,"size":180,"stroke":"white","strokeWidth":0.8,"clip":true}},
  {"transform":[{"filter":{"and":[{"field":"method","equal":"uniform-informed"},{"field":"frac","oneOf":[0.5,0.65,0.8,0.9,0.916,0.932,0.948,0.964,0.98,0.995]}]}}],"mark":{"type":"point","shape":"M-1.1,-0.66L-0.66,-1.1L0,-0.44L0.66,-1.1L1.1,-0.66L0.44,0L1.1,0.66L0.66,1.1L0,0.44L-0.66,1.1L-1.1,0.66L-0.44,0Z","filled":true,"opacity":1,"size":180,"stroke":"white","strokeWidth":0.8,"clip":true}}
 ]}
],"spacing":52,"bounds":"flush"},
{"hconcat":[
{"width":175,"height":160,"data":{"name":"acc"},"transform":[{"filter":"datum.ds==='MNISTb' && datum.split==='del'"}],
 "encoding":{"x":{"field":"frac","type":"quantitative","scale":{"domain":[0.4753,1.0198],"nice":false,"zero":false},"axis":{"values":[0.5,1],"format":".1f","title":null}},
  "y":{"field":"acc","type":"quantitative","scale":{"domain":[0.8514,0.9615],"nice":false,"zero":false},"axis":{"values":[0.9,0.95],"format":".2f","title":"Acc_del"}},
  "color":{"field":"method","type":"nominal","scale":{"domain":["uniform-random","uniform-informed"],"range":["#1f77b4","#2ca02c"]},"legend":null}},
 "layer":[
  {"transform":[{"filter":"isValid(datum.lo)"}],"mark":{"type":"area","opacity":0.22,"clip":true},"encoding":{"y":{"field":"lo","type":"quantitative","scale":{"domain":[0.8514,0.9615],"nice":false,"zero":false},"axis":{"values":[0.9,0.95],"format":".2f","title":"Acc_del"}},"y2":{"field":"hi"}}},
  {"mark":{"type":"line","strokeWidth":1.6,"clip":true},"encoding":{"strokeDash":{"field":"method","type":"nominal","scale":{"domain":["uniform-random","uniform-informed"],"range":[[1,0],[5.5,2.4]]},"legend":null}}},
  {"transform":[{"filter":{"and":[{"field":"method","equal":"uniform-random"},{"field":"frac","oneOf":[0.5,0.65,0.8,0.9,0.916,0.932,0.948,0.964,0.98,0.995]}]}}],"mark":{"type":"point","shape":"circle","filled":true,"opacity":1,"size":180,"stroke":"white","strokeWidth":0.8,"clip":true}},
  {"transform":[{"filter":{"and":[{"field":"method","equal":"uniform-informed"},{"field":"frac","oneOf":[0.5,0.65,0.8,0.9,0.916,0.932,0.948,0.964,0.98,0.995]}]}}],"mark":{"type":"point","shape":"M-1.1,-0.66L-0.66,-1.1L0,-0.44L0.66,-1.1L1.1,-0.66L0.44,0L1.1,0.66L0.66,1.1L0,0.44L-0.66,1.1L-1.1,0.66L-0.44,0Z","filled":true,"opacity":1,"size":180,"stroke":"white","strokeWidth":0.8,"clip":true}}
 ]},
{"width":175,"height":160,"data":{"name":"acc"},"transform":[{"filter":"datum.ds==='MNIST' && datum.split==='del'"}],
 "encoding":{"x":{"field":"frac","type":"quantitative","scale":{"domain":[0.4753,1.0198],"nice":false,"zero":false},"axis":{"values":[0.5,1],"format":".1f","title":null}},
  "y":{"field":"acc","type":"quantitative","scale":{"domain":[0.083,0.91],"nice":false,"zero":false},"axis":{"values":[0.25,0.5,0.75],"format":".2f","title":null}},
  "color":{"field":"method","type":"nominal","scale":{"domain":["uniform-random","uniform-informed"],"range":["#1f77b4","#2ca02c"]},"legend":null}},
 "layer":[
  {"mark":{"type":"line","strokeWidth":1.6,"clip":true},"encoding":{"strokeDash":{"field":"method","type":"nominal","scale":{"domain":["uniform-random","uniform-informed"],"range":[[1,0],[5.5,2.4]]},"legend":null}}},
  {"transform":[{"filter":{"and":[{"field":"method","equal":"uniform-random"},{"field":"frac","oneOf":[0.5,0.65,0.8,0.9,0.916,0.932,0.948,0.964,0.98,0.995]}]}}],"mark":{"type":"point","shape":"circle","filled":true,"opacity":1,"size":180,"stroke":"white","strokeWidth":0.8,"clip":true}},
  {"transform":[{"filter":{"and":[{"field":"method","equal":"uniform-informed"},{"field":"frac","oneOf":[0.5,0.65,0.8,0.9,0.916,0.932,0.948,0.964,0.98,0.995]}]}}],"mark":{"type":"point","shape":"M-1.1,-0.66L-0.66,-1.1L0,-0.44L0.66,-1.1L1.1,-0.66L0.44,0L1.1,0.66L0.66,1.1L0,0.44L-0.66,1.1L-1.1,0.66L-0.44,0Z","filled":true,"opacity":1,"size":180,"stroke":"white","strokeWidth":0.8,"clip":true}}
 ]},
{"width":175,"height":160,"data":{"name":"acc"},"transform":[{"filter":"datum.ds==='COVTYPE' && datum.split==='del'"}],
 "encoding":{"x":{"field":"frac","type":"quantitative","scale":{"domain":[0.4753,1.0198],"nice":false,"zero":false},"axis":{"values":[0.5,1],"format":".1f","title":null}},
  "y":{"field":"acc","type":"quantitative","scale":{"domain":[0.4979,0.7531],"nice":false,"zero":false},"axis":{"values":[0.5,0.6,0.7],"format":".1f","title":null}},
  "color":{"field":"method","type":"nominal","scale":{"domain":["uniform-random","uniform-informed"],"range":["#1f77b4","#2ca02c"]},"legend":null}},
 "layer":[
  {"mark":{"type":"line","strokeWidth":1.6,"clip":true},"encoding":{"strokeDash":{"field":"method","type":"nominal","scale":{"domain":["uniform-random","uniform-informed"],"range":[[1,0],[5.5,2.4]]},"legend":null}}},
  {"transform":[{"filter":{"and":[{"field":"method","equal":"uniform-random"},{"field":"frac","oneOf":[0.5,0.65,0.8,0.9,0.916,0.932,0.948,0.964,0.98,0.995]}]}}],"mark":{"type":"point","shape":"circle","filled":true,"opacity":1,"size":180,"stroke":"white","strokeWidth":0.8,"clip":true}},
  {"transform":[{"filter":{"and":[{"field":"method","equal":"uniform-informed"},{"field":"frac","oneOf":[0.5,0.65,0.8,0.9,0.916,0.932,0.948,0.964,0.98,0.995]}]}}],"mark":{"type":"point","shape":"M-1.1,-0.66L-0.66,-1.1L0,-0.44L0.66,-1.1L1.1,-0.66L0.44,0L1.1,0.66L0.66,1.1L0,0.44L-0.66,1.1L-1.1,0.66L-0.44,0Z","filled":true,"opacity":1,"size":180,"stroke":"white","strokeWidth":0.8,"clip":true}}
 ]},
{"width":175,"height":160,"data":{"name":"acc"},"transform":[{"filter":"datum.ds==='HIGGS' && datum.split==='del'"}],
 "encoding":{"x":{"field":"frac","type":"quantitative","scale":{"domain":[0.4753,1.0198],"nice":false,"zero":false},"axis":{"values":[0.5,1],"format":".1f","title":null}},
  "y":{"field":"acc","type":"quantitative","scale":{"domain":[0.5323,0.5857],"nice":false,"zero":false},"axis":{"values":[0.54,0.56,0.58],"format":".2f","title":null}},
  "color":{"field":"method","type":"nominal","scale":{"domain":["uniform-random","uniform-informed"],"range":["#1f77b4","#2ca02c"]},"legend":null}},
 "layer":[
  {"transform":[{"filter":"isValid(datum.lo)"}],"mark":{"type":"area","opacity":0.22,"clip":true},"encoding":{"y":{"field":"lo","type":"quantitative","scale":{"domain":[0.5323,0.5857],"nice":false,"zero":false},"axis":{"values":[0.54,0.56,0.58],"format":".2f","title":null}},"y2":{"field":"hi"}}},
  {"mark":{"type":"line","strokeWidth":1.6,"clip":true},"encoding":{"strokeDash":{"field":"method","type":"nominal","scale":{"domain":["uniform-random","uniform-informed"],"range":[[1,0],[5.5,2.4]]},"legend":null}}},
  {"transform":[{"filter":{"and":[{"field":"method","equal":"uniform-random"},{"field":"frac","oneOf":[0.5,0.65,0.8,0.9,0.916,0.932,0.948,0.964,0.98,0.995]}]}}],"mark":{"type":"point","shape":"circle","filled":true,"opacity":1,"size":180,"stroke":"white","strokeWidth":0.8,"clip":true}},
  {"transform":[{"filter":{"and":[{"field":"method","equal":"uniform-informed"},{"field":"frac","oneOf":[0.5,0.65,0.8,0.9,0.916,0.932,0.948,0.964,0.98,0.995]}]}}],"mark":{"type":"point","shape":"M-1.1,-0.66L-0.66,-1.1L0,-0.44L0.66,-1.1L1.1,-0.66L0.44,0L1.1,0.66L0.66,1.1L0,0.44L-0.66,1.1L-1.1,0.66L-0.44,0Z","filled":true,"opacity":1,"size":180,"stroke":"white","strokeWidth":0.8,"clip":true}}
 ]},
{"width":175,"height":160,"data":{"name":"acc"},"transform":[{"filter":"datum.ds==='CIFAR2' && datum.split==='del'"}],
 "encoding":{"x":{"field":"frac","type":"quantitative","scale":{"domain":[0.4753,1.0198],"nice":false,"zero":false},"axis":{"values":[0.5,1],"format":".1f","title":null}},
  "y":{"field":"acc","type":"quantitative","scale":{"domain":[0.466,0.875],"nice":false,"zero":false},"axis":{"values":[0.6,0.8],"format":".1f","title":null}},
  "color":{"field":"method","type":"nominal","scale":{"domain":["uniform-random","uniform-informed"],"range":["#1f77b4","#2ca02c"]},"legend":null}},
 "layer":[
  {"transform":[{"filter":"isValid(datum.lo)"}],"mark":{"type":"area","opacity":0.22,"clip":true},"encoding":{"y":{"field":"lo","type":"quantitative","scale":{"domain":[0.466,0.875],"nice":false,"zero":false},"axis":{"values":[0.6,0.8],"format":".1f","title":null}},"y2":{"field":"hi"}}},
  {"mark":{"type":"line","strokeWidth":1.6,"clip":true},"encoding":{"strokeDash":{"field":"method","type":"nominal","scale":{"domain":["uniform-random","uniform-informed"],"range":[[1,0],[5.5,2.4]]},"legend":null}}},
  {"transform":[{"filter":{"and":[{"field":"method","equal":"uniform-random"},{"field":"frac","oneOf":[0.5,0.65,0.8,0.9,0.916,0.932,0.948,0.964,0.98,0.995]}]}}],"mark":{"type":"point","shape":"circle","filled":true,"opacity":1,"size":180,"stroke":"white","strokeWidth":0.8,"clip":true}},
  {"transform":[{"filter":{"and":[{"field":"method","equal":"uniform-informed"},{"field":"frac","oneOf":[0.5,0.65,0.8,0.9,0.916,0.932,0.948,0.964,0.98,0.995]}]}}],"mark":{"type":"point","shape":"M-1.1,-0.66L-0.66,-1.1L0,-0.44L0.66,-1.1L1.1,-0.66L0.44,0L1.1,0.66L0.66,1.1L0,0.44L-0.66,1.1L-1.1,0.66L-0.44,0Z","filled":true,"opacity":1,"size":180,"stroke":"white","strokeWidth":0.8,"clip":true}}
 ]},
{"width":175,"height":160,"data":{"name":"acc"},"transform":[{"filter":"datum.ds==='EPSILON' && datum.split==='del'"}],
 "encoding":{"x":{"field":"frac","type":"quantitative","scale":{"domain":[0.4753,1.0198],"nice":false,"zero":false},"axis":{"values":[0.5,1],"format":".1f","title":null}},
  "y":{"field":"acc","type":"quantitative","scale":{"domain":[0.672,0.888],"nice":false,"zero":false},"axis":{"values":[0.7,0.8],"format":".1f","title":null}},
  "color":{"field":"method","type":"nominal","scale":{"domain":["uniform-random","uniform-informed"],"range":["#1f77b4","#2ca02c"]},"legend":null}},
 "layer":[
  {"transform":[{"filter":"isValid(datum.lo)"}],"mark":{"type":"area","opacity":0.22,"clip":true},"encoding":{"y":{"field":"lo","type":"quantitative","scale":{"domain":[0.672,0.888],"nice":false,"zero":false},"axis":{"values":[0.7,0.8],"format":".1f","title":null}},"y2":{"field":"hi"}}},
  {"mark":{"type":"line","strokeWidth":1.6,"clip":true},"encoding":{"strokeDash":{"field":"method","type":"nominal","scale":{"domain":["uniform-random","uniform-informed"],"range":[[1,0],[5.5,2.4]]},"legend":null}}},
  {"transform":[{"filter":{"and":[{"field":"method","equal":"uniform-random"},{"field":"frac","oneOf":[0.5,0.65,0.8,0.9,0.916,0.932,0.948,0.964,0.98,0.995]}]}}],"mark":{"type":"point","shape":"circle","filled":true,"opacity":1,"size":180,"stroke":"white","strokeWidth":0.8,"clip":true}},
  {"transform":[{"filter":{"and":[{"field":"method","equal":"uniform-informed"},{"field":"frac","oneOf":[0.5,0.65,0.8,0.9,0.916,0.932,0.948,0.964,0.98,0.995]}]}}],"mark":{"type":"point","shape":"M-1.1,-0.66L-0.66,-1.1L0,-0.44L0.66,-1.1L1.1,-0.66L0.44,0L1.1,0.66L0.66,1.1L0,0.44L-0.66,1.1L-1.1,0.66L-0.44,0Z","filled":true,"opacity":1,"size":180,"stroke":"white","strokeWidth":0.8,"clip":true}}
 ]}
],"spacing":52,"bounds":"flush"}
],
"config":{
 "font":"Liberation Serif",
 "view":{"stroke":"#262626","strokeWidth":1},
 "axis":{"domain":false,"grid":false,"labelFont":"Liberation Serif","labelFontSize":18,"labelColor":"#262626","tickColor":"#262626","tickSize":5,"labelPadding":3,"labelFlush":false,"labelOverlap":false,"titleFont":"DejaVu Sans Mono","titleFontSize":15,"titleFontWeight":"normal","titleColor":"#262626","titlePadding":5},
 "title":{"font":"Liberation Serif","fontSize":20,"fontWeight":"normal","color":"#262626","offset":3},
 "legend":{"labelFont":"DejaVu Sans Mono","labelFontSize":16,"labelColor":"#262626","titleFont":"Liberation Serif","titleFontSize":19,"titleFontWeight":"normal","titleColor":"#262626","padding":0,"symbolOpacity":1}
}
}
